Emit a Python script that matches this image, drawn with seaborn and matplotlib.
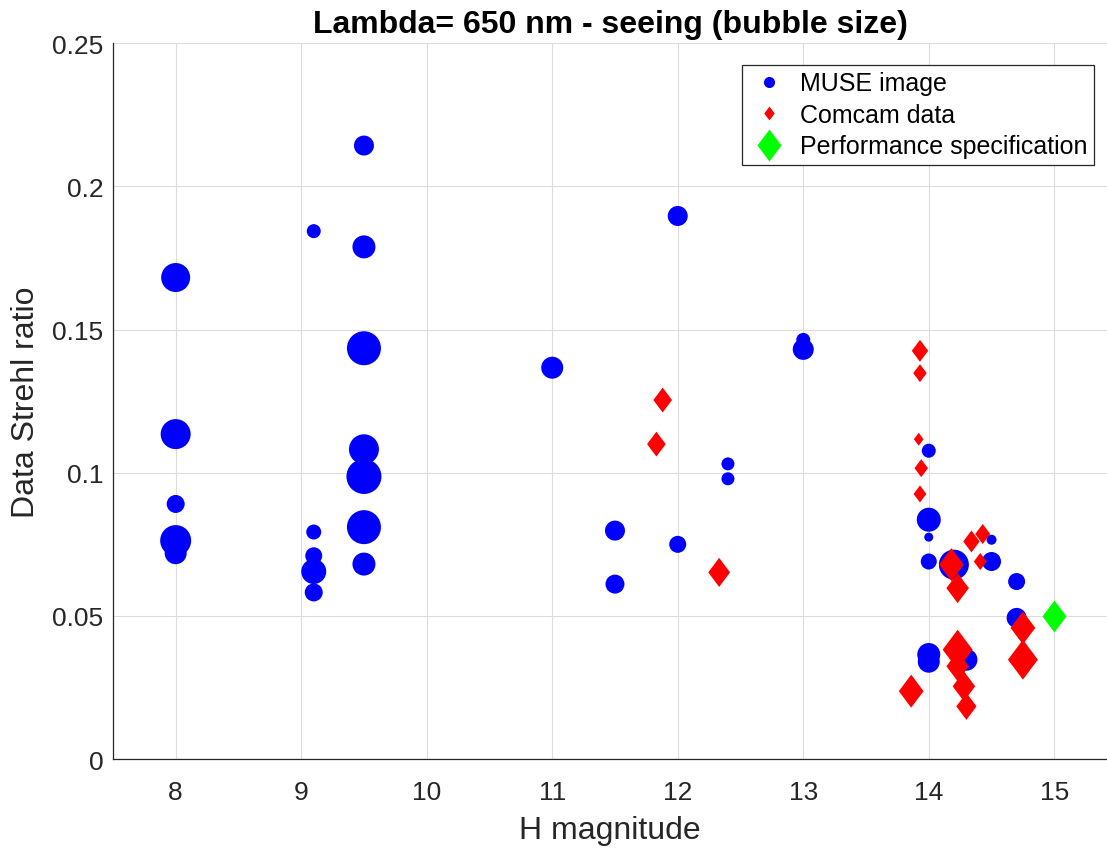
import matplotlib
matplotlib.use("Agg")
import matplotlib.pyplot as plt
import numpy as np
import seaborn as sns
from matplotlib.lines import Line2D

# ------------------------------------------------------------
# Data
# ------------------------------------------------------------
muse_h = [8.0, 8.0, 8.0, 8.0, 8.0,
          9.1, 9.1, 9.1, 9.1, 9.1,
          9.5, 9.5, 9.5, 9.5, 9.5, 9.5, 9.5,
          11.0, 11.5, 11.5, 12.0, 12.0, 12.4, 12.4, 13.0, 13.0,
          14.0, 14.0, 14.0, 14.0, 14.0, 14.0,
          14.2, 14.3, 14.5, 14.5, 14.7, 14.7]
muse_sr = [0.1682, 0.1135, 0.0891, 0.0763, 0.0719,
           0.1844, 0.0793, 0.0710, 0.0655, 0.0582,
           0.2143, 0.1789, 0.1435, 0.1082, 0.0987, 0.0810, 0.0681,
           0.1367, 0.0798, 0.0611, 0.1897, 0.0750, 0.1031, 0.0979, 0.1464, 0.1431,
           0.1077, 0.0836, 0.0775, 0.0690, 0.0365, 0.0340,
           0.0679, 0.0347, 0.0766, 0.0690, 0.0620, 0.0493]
# seeing in arcsec (bubble size)
muse_seeing = [1.16, 1.20, 0.72, 1.24, 0.88,
               0.56, 0.60, 0.68, 1.00, 0.72,
               0.80, 0.92, 1.36, 1.20, 1.40, 1.36, 0.92,
               0.88, 0.80, 0.76, 0.80, 0.68, 0.52, 0.52, 0.56, 0.84,
               0.56, 0.96, 0.36, 0.64, 0.92, 0.88,
               1.20, 0.88, 0.40, 0.76, 0.68, 0.80]

comcam_h = [11.88, 11.83, 12.33,
            13.93, 13.93, 13.92, 13.94, 13.93,
            14.34, 14.43, 14.41, 14.18, 14.23,
            14.75, 14.75, 14.23, 14.23, 14.28, 14.30, 13.86]
comcam_sr = [0.1254, 0.1100, 0.0652,
             0.1426, 0.1348, 0.1117, 0.1016, 0.0926,
             0.0760, 0.0786, 0.0690, 0.0679, 0.0597,
             0.0458, 0.0347, 0.0382, 0.0324, 0.0254, 0.0184, 0.0237]
comcam_seeing = [0.83, 0.83, 0.97,
                 0.73, 0.60, 0.43, 0.60, 0.57,
                 0.73, 0.67, 0.57, 1.10, 1.00,
                 1.10, 1.33, 1.33, 1.00, 1.00, 0.90, 1.10]

spec_h = [15.0]
spec_sr = [0.05]

# ------------------------------------------------------------
# Plot
# ------------------------------------------------------------
sns.set_style("white")
plt.rcParams["font.family"] = ["Liberation Sans", "DejaVu Sans"]

diamond = [(0, 1), (0.75, 0), (0, -1), (-0.75, 0), (0, 1)]

fig = plt.figure(figsize=(11.07, 8.53), dpi=100)
ax = fig.add_axes([0.102, 0.109, 0.898, 0.839])

muse_s = (np.array(muse_seeing) * 25 * 0.72) ** 2
comcam_s = (np.array(comcam_seeing) * 30 * 0.72) ** 2

sns.scatterplot(x=muse_h, y=muse_sr, s=muse_s, color="#0000ff",
                marker="o", linewidth=0, ax=ax, zorder=3)
sns.scatterplot(x=comcam_h, y=comcam_sr, s=comcam_s, color="#ff0000",
                marker=diamond, linewidth=0, ax=ax, zorder=4)
sns.scatterplot(x=spec_h, y=spec_sr, s=(32 * 0.72) ** 2, color="#00ff00",
                marker=diamond, linewidth=0, ax=ax, zorder=5)

ax.set_xlim(7.5, 15.42)
ax.set_ylim(0, 0.25)
ax.set_xticks(range(8, 16))
ax.set_yticks([0, 0.05, 0.1, 0.15, 0.2, 0.25])
ax.set_yticklabels(["0", "0.05", "0.1", "0.15", "0.2", "0.25"])

ax.grid(True, color="#dcdcdc", linewidth=0.8)
ax.set_axisbelow(True)
for side in ["top", "right"]:
    ax.spines[side].set_visible(False)
for side in ["left", "bottom"]:
    ax.spines[side].set_color("#262626")
    ax.spines[side].set_linewidth(0.9)
ax.tick_params(direction="in", length=6, width=0.9, color="#262626",
               labelsize=19, labelcolor="#262626")
ax.tick_params(axis="x", pad=15)
ax.tick_params(axis="y", pad=7)

ax.set_xlabel("H magnitude", fontsize=23, color="#262626", labelpad=8)
ax.set_ylabel("Data Strehl ratio", fontsize=23, color="#262626", labelpad=8)
ax.set_title("Lambda= 650 nm - seeing (bubble size)", fontsize=23,
             fontweight="bold", color="black", pad=8)

handles = [
    Line2D([], [], linestyle="none", marker="o", color="#0000ff",
           markersize=8, markeredgewidth=0),
    Line2D([], [], linestyle="none", marker=diamond, color="#ff0000",
           markersize=10, markeredgewidth=0),
    Line2D([], [], linestyle="none", marker=diamond, color="#00ff00",
           markersize=23, markeredgewidth=0),
]
labels = ["MUSE image", "Comcam data", "Performance specification"]
leg = ax.legend(handles, labels, loc="upper right",
                bbox_to_anchor=(0.989, 0.973), fontsize=18, frameon=True,
                fancybox=False, framealpha=1, edgecolor="#262626",
                handletextpad=0.45, borderpad=0.25, labelspacing=0.3,
                handlelength=1.6, borderaxespad=0.1)
leg.get_frame().set_linewidth(0.9)
for text in leg.get_texts():
    text.set_color("black")

fig.savefig("out.png", dpi=100)
